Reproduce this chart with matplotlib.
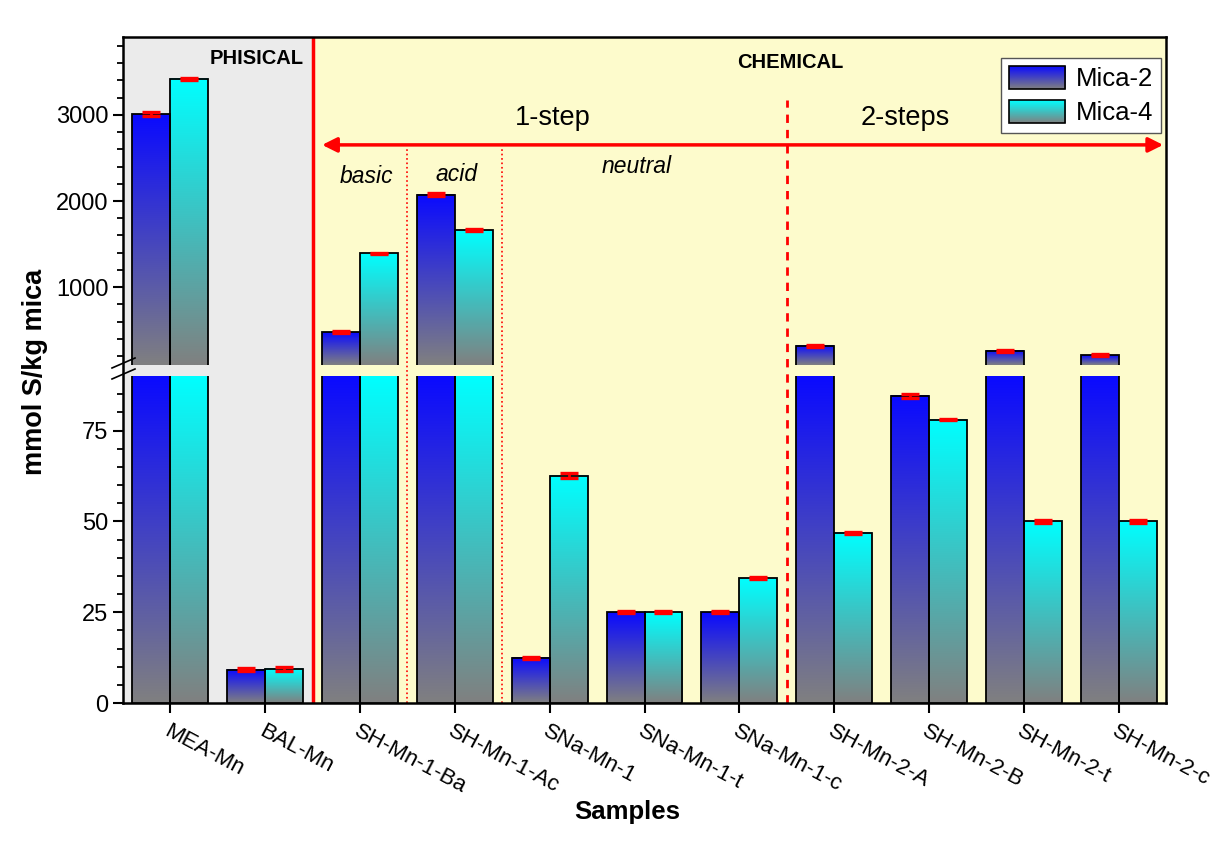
"""Sulfur content of mica samples, broken y-axis bar chart."""

import numpy as np
import matplotlib
matplotlib.use("Agg")
import matplotlib.pyplot as plt
from matplotlib.colors import to_rgb
from matplotlib.legend_handler import HandlerBase
from matplotlib.image import BboxImage
from matplotlib.transforms import Bbox, TransformedBbox
from matplotlib.patches import Rectangle
from matplotlib.lines import Line2D

plt.rcParams['font.family'] = ['Liberation Sans', 'DejaVu Sans']

# ---- Data ----
samples = ["MEA-Mn", "BAL-Mn", "SH-Mn-1-Ba", "SH-Mn-1-Ac", "SNa-Mn-1",
           "SNa-Mn-1-t", "SNa-Mn-1-c", "SH-Mn-2-A", "SH-Mn-2-B",
           "SH-Mn-2-t", "SH-Mn-2-c"]
mica2 = [3010, 9.2, 478, 2075, 12.4, 25.0, 25.0, 316, 84.5, 258, 211]
mica4 = [3418, 9.4, 1393, 1663, 62.6, 25.0, 34.4, 46.8, 78.0, 50.0, 50.0]
err2 = [20, 0.3, 8, 20, 0.2, 0.3, 0.2, 8, 0.6, 8, 8]
err4 = [8, 0.5, 8, 10, 0.6, 0.3, 0.4, 0.3, 0.2, 0.4, 0.4]

LOW_LIM = (0, 90)
HIGH_LIM = (95, 3905)

GREY = "#808080"
BLUE = "#0a0aff"
CYAN = "#00ffff"
BG_PHYS = "#ebebeb"
BG_CHEM = "#fdfbcc"
W = 0.4


def gradient(top, n=256):
    c0, c1 = np.array(to_rgb(GREY)), np.array(to_rgb(top))
    t = np.linspace(0, 1, n)[:, None]
    return (c0 + (c1 - c0) * t)[:, None, :]


def draw_bars(ax, xs, vals, errs, color, lim):
    lo, hi = lim
    g = gradient(color)
    for x, v in zip(xs, vals):
        if v <= lo:
            continue
        ax.imshow(g, extent=(x - W/2, x + W/2, lo, min(v, hi)), origin="lower",
                  aspect="auto", interpolation="bilinear", zorder=2)
    ax.bar(xs, vals, W, facecolor="none", edgecolor="black", lw=1.3, zorder=3)
    v = np.array(vals); e = np.array(errs)
    m = (v > lo) & (v < hi)
    ax.errorbar(np.array(xs)[m], v[m], yerr=e[m], fmt="none", ecolor="red",
                elinewidth=2, capsize=6.5, capthick=2.4, zorder=4)


class GradientHandler(HandlerBase):
    def __init__(self, top):
        super().__init__()
        self.top = top

    def create_artists(self, legend, orig_handle, xdescent, ydescent,
                       width, height, fontsize, trans):
        bounds = (-xdescent, -ydescent, width, height)
        bb = TransformedBbox(Bbox.from_bounds(*bounds), trans)
        img = BboxImage(bb, interpolation="bilinear", origin="lower")
        img.set_data(gradient(self.top))
        rect = Rectangle(bounds[:2], bounds[2], bounds[3], fill=False,
                         edgecolor="black", lw=1.2, transform=trans)
        return [img, rect]


fig = plt.figure(figsize=(12.17, 8.66), dpi=100)
L, R = 123 / 1217, 1166 / 1217
frame_b, frame_t = 1 - 703 / 866, 1 - 37 / 866
low_t = 1 - 376 / 866
high_b = 1 - 365 / 866

x = np.arange(len(samples))
xlim = (-0.5, len(samples) - 0.5)

# ---- Background frame ----
bg = fig.add_axes([L, frame_b, R - L, frame_t - frame_b])
bg.set_xlim(*xlim); bg.set_ylim(0, 1)
bg.axvspan(-0.5, 1.5, color=BG_PHYS, lw=0)
bg.axvspan(1.5, 10.5, color=BG_CHEM, lw=0)
bg.axvline(1.5, color="red", lw=2.5)
bg.vlines([2.5, 3.5], 0, 0.835, colors="red", linestyles=":", lw=1.2)
bg.vlines([6.5], 0, 0.905, colors="red", linestyles=(0, (3, 2.5)), lw=2)
bg.annotate("", xy=(10.47, 0.838), xytext=(1.6, 0.838),
            arrowprops=dict(arrowstyle="<|-|>", color="red", lw=2.5,
                            mutation_scale=22, shrinkA=0, shrinkB=0))
bg.set_xticks([]); bg.set_yticks([])
for s in bg.spines.values():
    s.set_linewidth(1.8)

bg.text(1.4, 0.968, "PHISICAL", fontsize=14.5, fontweight="bold", ha="right", va="center")
bg.text(6.54, 0.961, "CHEMICAL", fontsize=14.5, fontweight="bold", ha="center", va="center")
bg.text(4.03, 0.878, "1-step", fontsize=19.5, ha="center", va="center")
bg.text(7.75, 0.878, "2-steps", fontsize=19.5, ha="center", va="center")
bg.text(2.07, 0.791, "basic", fontsize=16.5, style="italic", ha="center", va="center")
bg.text(3.02, 0.794, "acid", fontsize=16.5, style="italic", ha="center", va="center")
bg.text(4.92, 0.805, "neutral", fontsize=16.5, style="italic", ha="center", va="center")

# break marks on the left spine
for yp in (363, 374):
    fig.add_artist(Line2D([112 / 1217, 135 / 1217],
                          [1 - (yp + 5) / 866, 1 - (yp - 5) / 866],
                          color="black", lw=1.2))

# ---- Bar panels ----
ax_lo = fig.add_axes([L, frame_b, R - L, low_t - frame_b])
ax_hi = fig.add_axes([L, high_b, R - L, frame_t - high_b])

for ax, lim in ((ax_lo, LOW_LIM), (ax_hi, HIGH_LIM)):
    ax.set_facecolor("none")
    draw_bars(ax, x - W/2, mica2, err2, BLUE, lim)
    draw_bars(ax, x + W/2, mica4, err4, CYAN, lim)
    ax.set_xlim(*xlim); ax.set_ylim(*lim)
    for s in ax.spines.values():
        s.set_visible(False)
    ax.tick_params(axis="y", which="major", direction="out", length=7, width=1.5, labelsize=17)
    ax.tick_params(axis="y", which="minor", direction="out", length=4, width=1.3)

ax_lo.set_yticks([0, 25, 50, 75])
ax_lo.set_yticks(np.arange(5, 90, 5), minor=True)
ax_lo.set_xticks(x)
ax_lo.set_xticklabels(samples, rotation=-28, ha="left", va="top",
                      rotation_mode="anchor", fontsize=16)
ax_lo.tick_params(axis="x", direction="out", length=7, width=1.5, pad=6)

ax_hi.set_yticks([1000, 2000, 3000])
ax_hi.set_yticks(np.arange(200, 3900, 200), minor=True)
ax_hi.set_xticks([])

handles = [Rectangle((0, 0), 1, 1), Rectangle((0, 0), 1, 1)]
leg = ax_hi.legend(handles, ["Mica-2", "Mica-4"], loc="upper right",
                   bbox_to_anchor=(0.995, 0.936), borderaxespad=0,
                   fontsize=18.5, handlelength=2.2, handleheight=1.0,
                   handletextpad=0.4, labelspacing=0.35, borderpad=0.3,
                   fancybox=False, framealpha=1,
                   handler_map={handles[0]: GradientHandler(BLUE),
                                handles[1]: GradientHandler(CYAN)})
leg.get_frame().set_edgecolor("#555555")
leg.get_frame().set_linewidth(1.0)

fig.text(35 / 1217, 1 - 372 / 866, "mmol S/kg mica", rotation=90, fontsize=19.5,
         fontweight="bold", ha="center", va="center")
fig.text(627 / 1217, 1 - 812 / 866, "Samples", fontsize=18.5, fontweight="bold",
         ha="center", va="center")

fig.savefig("out.png", dpi=100)
